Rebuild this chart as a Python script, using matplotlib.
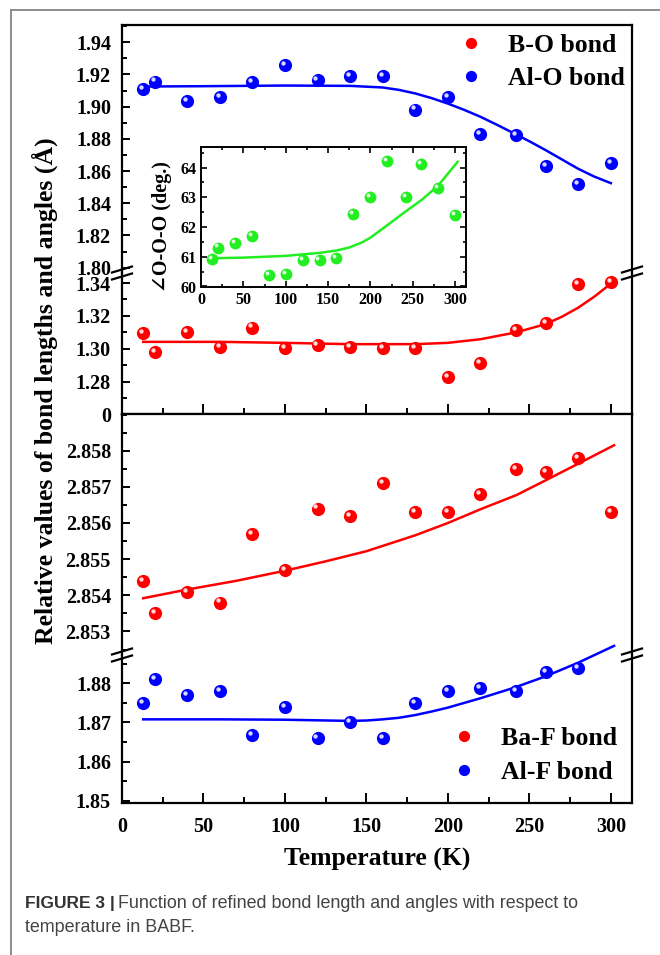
"""
Bond lengths and O-O-O angle of BABF versus temperature (Figure 3).
Two broken-axis panels plus an inset, saved to out.png.
"""

import matplotlib

matplotlib.use("Agg")
import matplotlib.pyplot as plt
from matplotlib.lines import Line2D
from matplotlib.ticker import MultipleLocator, FormatStrFormatter
from matplotlib.transforms import offset_copy

plt.rcParams["font.family"] = ["Liberation Serif", "DejaVu Serif"]
plt.rcParams["font.weight"] = "bold"
plt.rcParams["axes.labelweight"] = "bold"

# ---- data ------------------------------------------------------------
temps = [13, 20, 40, 60, 80, 100, 120, 140, 160, 180, 200, 220, 242, 260, 280, 300]

al_o = [1.9110, 1.9156, 1.9032, 1.9059, 1.9152, 1.9261, 1.9168, 1.9191,
        1.9191, 1.8982, 1.9059, 1.8831, 1.8821, 1.8629, 1.8521, 1.8649]
b_o = [1.3093, 1.2982, 1.3103, 1.3012, 1.3129, 1.3002, 1.3022, 1.3012,
       1.3002, 1.3002, 1.2830, 1.2911, 1.3113, 1.3154, 1.3396, 1.3406]
ba_f = [2.8544, 2.8535, 2.8541, 2.8538, 2.8557, 2.8547, 2.8564, 2.8562,
        2.8571, 2.8563, 2.8563, 2.8568, 2.8575, 2.8574, 2.8578, 2.8563]
al_f_temps = temps[:-1]
al_f = [1.8749, 1.8811, 1.8769, 1.8780, 1.8668, 1.8740, 1.8660, 1.8700,
        1.8660, 1.8749, 1.8780, 1.8789, 1.8780, 1.8829, 1.8840]
angle = [60.93, 61.31, 61.46, 61.71, 60.37, 60.43, 60.90, 60.90,
         60.95, 62.45, 63.00, 64.21, 63.00, 64.12, 63.31, 62.41]

# fitted curves, sampled from the figure
al_o_fit_t = [13, 50, 100, 140, 160, 170, 180, 190, 200, 210, 220, 230, 242,
              250, 260, 270, 280, 290, 300]
al_o_fit = [1.9125, 1.9127, 1.9131, 1.9129, 1.9119, 1.9104, 1.9082, 1.9053,
            1.9019, 1.8980, 1.8937, 1.8888, 1.8827, 1.8785, 1.8730, 1.8672,
            1.8614, 1.8565, 1.8525]
b_o_fit_t = [13, 60, 100, 140, 180, 200, 220, 242, 260, 270, 280, 290, 300]
b_o_fit = [1.3042, 1.3042, 1.3036, 1.3028, 1.3028, 1.3036, 1.3058, 1.3100,
           1.3150, 1.3195, 1.3250, 1.3318, 1.3396]
ba_f_fit_t = [13, 40, 70, 100, 125, 150, 180, 200, 220, 242, 260, 280, 302]
ba_f_fit = [2.85392, 2.85416, 2.85440, 2.85468, 2.85494, 2.85522, 2.85566,
            2.85600, 2.85638, 2.85677, 2.85718, 2.85764, 2.85815]
al_f_fit_t = [13, 60, 100, 140, 150, 160, 170, 180, 190, 200, 220, 240, 260,
              280, 302]
al_f_fit = [1.8708, 1.8708, 1.8707, 1.8704, 1.8705, 1.8708, 1.8712, 1.8719,
            1.8728, 1.8738, 1.8762, 1.8788, 1.8818, 1.8853, 1.8896]
angle_fit_t = [13, 50, 100, 140, 160, 175, 190, 200, 220, 242, 261, 280, 303]
angle_fit = [60.95, 60.97, 61.03, 61.13, 61.21, 61.31, 61.48, 61.64, 62.06,
             62.53, 62.92, 63.39, 64.19]

RED, BLUE, GREEN = "#ff0000", "#0000ff", "#22ee22"
W, H = 660, 955


def fy(px):
    return 1 - px / H


def balls(ax, x, y, color, ms=9.5, label=None):
    h, = ax.plot(x, y, "o", ms=ms, color=color, mew=0, clip_on=False,
                 zorder=4, label=label)
    tr = offset_copy(ax.transData, fig=ax.figure, x=-1.5, y=1.5, units="points")
    ax.plot(x, y, "o", ms=ms * 0.33, color="white", alpha=0.85, mew=0,
            transform=tr, clip_on=False, zorder=5)
    return h


def style(ax, ymaj, ymin, fmt):
    ax.set_xlim(0, 313)
    ax.yaxis.set_major_locator(MultipleLocator(ymaj))
    ax.yaxis.set_minor_locator(MultipleLocator(ymin))
    ax.yaxis.set_major_formatter(FormatStrFormatter(fmt))
    ax.xaxis.set_major_locator(MultipleLocator(50))
    ax.xaxis.set_minor_locator(MultipleLocator(25))
    ax.tick_params(axis="y", which="both", direction="in", left=True,
                   right=False, labelsize=14.5, pad=8, width=1.4)
    ax.tick_params(axis="y", which="major", length=6)
    ax.tick_params(axis="y", which="minor", length=3.5)
    ax.tick_params(axis="x", which="both", direction="in", bottom=False,
                   top=False, labelbottom=False, width=1.4)
    for s in ax.spines.values():
        s.set_linewidth(1.6)


fig = plt.figure(figsize=(W / 100, H / 100), dpi=100)

L, AW = 122 / W, 510 / W
ax_alo = fig.add_axes([L, fy(273), AW, (273 - 25) / H])
ax_bo = fig.add_axes([L, fy(414.5), AW, (414.5 - 273) / H])
ax_baf = fig.add_axes([L, fy(655), AW, (655 - 414.5) / H])
ax_alf = fig.add_axes([L, fy(803), AW, (803 - 655) / H])

style(ax_alo, 0.02, 0.01, "%.2f")
style(ax_bo, 0.02, 0.01, "%.2f")
style(ax_baf, 0.001, 0.0005, "%.3f")
style(ax_alf, 0.01, 0.005, "%.2f")

ax_alo.set_ylim(1.7967, 1.9507)
ax_bo.set_ylim(1.26, 1.3461)
ax_bo.set_yticks([1.26, 1.28, 1.30, 1.32, 1.34])
ax_bo.set_yticklabels(["0", "1.28", "1.30", "1.32", "1.34"])
ax_baf.set_ylim(2.85235, 2.859)
ax_baf.set_yticks([2.853, 2.854, 2.855, 2.856, 2.857, 2.858])
ax_alf.set_ylim(1.8494, 1.88726)
ax_alf.set_yticks([1.85, 1.86, 1.87, 1.88])

ax_alo.spines["bottom"].set_visible(False)
ax_bo.spines["top"].set_visible(False)
ax_baf.spines["bottom"].set_visible(False)
ax_alf.spines["top"].set_visible(False)
ax_bo.tick_params(axis="x", which="both", bottom=True, length=7)
ax_bo.tick_params(axis="x", which="minor", length=4)
ax_alf.tick_params(axis="x", which="both", bottom=True, labelbottom=True,
                   labelsize=14.5, pad=10, length=7)
ax_alf.tick_params(axis="x", which="minor", length=4)

legend_kw = dict(loc="center left", frameon=False, borderpad=0,
                 handlelength=1.0, handletextpad=0.95, markerscale=0.85,
                 prop={"size": 18.5, "weight": "bold"})

# top panel
ax_alo.plot(al_o_fit_t, al_o_fit, color=BLUE, lw=1.8, zorder=3)
h_alo = balls(ax_alo, temps, al_o, BLUE, label="Al-O bond")
ax_bo.plot(b_o_fit_t, b_o_fit, color=RED, lw=1.8, zorder=3)
h_bo = balls(ax_bo, temps, b_o, RED, label="B-O bond")
ax_alo.legend([h_bo, h_alo], ["B-O bond", "Al-O bond"],
              bbox_to_anchor=(0.633, 0.851), labelspacing=0.38, **legend_kw)

# bottom panel
ax_baf.plot(ba_f_fit_t, ba_f_fit, color=RED, lw=1.8, zorder=3)
h_baf = balls(ax_baf, temps, ba_f, RED, label="Ba-F bond")
ax_alf.plot(al_f_fit_t, al_f_fit, color=BLUE, lw=1.8, zorder=3, clip_on=False)
h_alf = balls(ax_alf, al_f_temps, al_f, BLUE, label="Al-F bond")
ax_alf.legend([h_baf, h_alf], ["Ba-F bond", "Al-F bond"],
              bbox_to_anchor=(0.620, 0.321), labelspacing=0.45, **legend_kw)

ax_alf.set_xlabel("Temperature (K)", fontsize=18.5, fontweight="bold",
                  labelpad=8)
fig.text(45 / W, fy(391), "Relative values of bond lengths and angles (\u00c5)",
         rotation=90, ha="center", va="center", fontsize=18.5,
         fontweight="bold")

# axis break marks
for yb in (273, 655):
    for xs in (122, 632):
        for dy in (-3.5, 3.5):
            fig.add_artist(Line2D([(xs - 10) / W, (xs + 10) / W],
                                  [fy(yb + dy + 3), fy(yb + dy - 3)],
                                  color="black", lw=1.6))

# inset
ax_in = fig.add_axes([201 / W, fy(286.5), 264.7 / W, (286.5 - 146.7) / H])
ax_in.set_zorder(6)
ax_in.plot(angle_fit_t, angle_fit, color=GREEN, lw=1.8, zorder=3)
balls(ax_in, temps, angle, GREEN, ms=8.5)
ax_in.set_xlim(0, 312.6)
ax_in.set_ylim(60, 64.7)
ax_in.xaxis.set_major_locator(MultipleLocator(50))
ax_in.xaxis.set_minor_locator(MultipleLocator(25))
ax_in.yaxis.set_major_locator(MultipleLocator(1))
ax_in.yaxis.set_minor_locator(MultipleLocator(0.5))
ax_in.tick_params(which="both", direction="in", top=True, right=True,
                  labelsize=11.5, width=1.2)
ax_in.tick_params(axis="y", which="major", length=4.5, pad=3)
ax_in.tick_params(axis="x", which="major", length=4.5, pad=4)
ax_in.tick_params(which="minor", length=2.5)
for s in ax_in.spines.values():
    s.set_linewidth(1.4)
fig.text(162 / W, fy(226.5), "\u2220O-O-O (deg.)", rotation=90, ha="center",
         va="center", fontsize=14.5, fontweight="bold")

# figure frame and caption
fig.add_artist(Line2D([11 / W, 11 / W], [fy(10), 0], color="#8c8c8c", lw=1.4))
fig.add_artist(Line2D([11 / W, 1], [fy(10), fy(10)], color="#8c8c8c", lw=1.4))

cap_bold = fig.text(25 / W, fy(903), "FIGURE 3 |", fontsize=12.5,
                    family="Liberation Sans", weight="bold", color="#333333",
                    va="center")
fig.canvas.draw()
bb = cap_bold.get_window_extent()
fig.text((bb.x1 + 3) / W, fy(903),
         "Function of refined bond length and angles with respect to",
         fontsize=12.9, family="Liberation Sans", weight="normal",
         color="#444444", va="center")
fig.text(25 / W, fy(927), "temperature in BABF.", fontsize=12.9,
         family="Liberation Sans", weight="normal", color="#444444", va="center")

fig.savefig("out.png", dpi=100)
